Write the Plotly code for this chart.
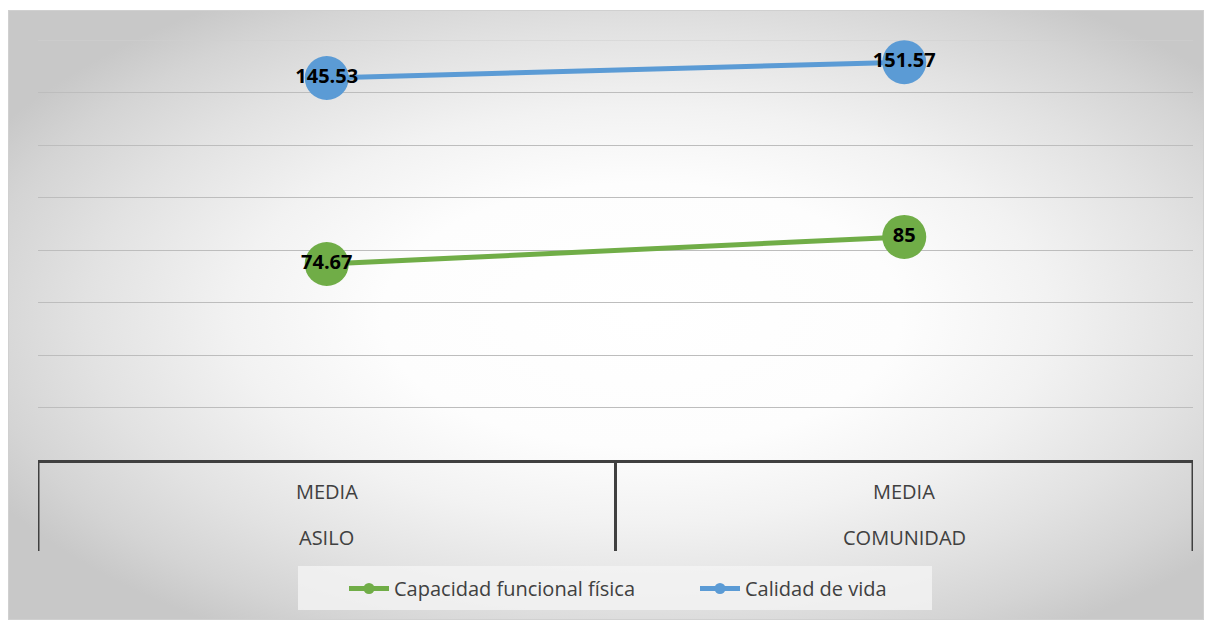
import base64
import plotly.graph_objects as go

# Category groups (bottom row) and statistic (top row)
groups = ["ASILO", "COMUNIDAD"]
stat_label = "MEDIA"

# Series values
capacidad = [74.67, 85]
calidad = [145.53, 151.57]

series_names = ["Capacidad funcional física", "Calidad de vida"]
colors = ["#70AD47", "#5B9BD5"]

# Y scale: 0..160 with gridlines every 20
y_max = 160
y_step = 20

W, H = 1209, 621
M_L, M_R, M_T, M_B = 38, 16, 40, 161
plot_w = W - M_L - M_R
plot_h = H - M_T - M_B

# Radial-gradient chart area background as an inline SVG
bg_w, bg_h = 1196, 610
svg = (
    f'<svg xmlns="http://www.w3.org/2000/svg" width="{bg_w}" height="{bg_h}" '
    f'viewBox="0 0 {bg_w} {bg_h}" preserveAspectRatio="none">'
    '<defs><radialGradient id="g" cx="0.53" cy="0.5" r="0.62">'
    '<stop offset="0" stop-color="#ffffff"/>'
    '<stop offset="0.35" stop-color="#fdfdfd"/>'
    '<stop offset="0.55" stop-color="#f2f2f2"/>'
    '<stop offset="0.75" stop-color="#e2e2e2"/>'
    '<stop offset="0.9" stop-color="#d4d4d4"/>'
    '<stop offset="1" stop-color="#c8c8c8"/>'
    '</radialGradient></defs>'
    f'<rect x="0.5" y="0.5" width="{bg_w-1}" height="{bg_h-1}" fill="url(#g)" '
    'stroke="#d0d0d0" stroke-width="1"/></svg>'
)
bg_src = "data:image/svg+xml;base64," + base64.b64encode(svg.encode()).decode()

def px_to_paper_x(px):
    return (px - M_L) / plot_w

def px_to_paper_y(py):
    return (H - M_B - py) / plot_h

fig = go.Figure()

for name, vals, col in zip(series_names, [capacidad, calidad], colors):
    fig.add_trace(go.Scatter(
        x=groups, y=vals, mode="lines+markers+text",
        line=dict(color=col, width=5),
        marker=dict(color=col, size=44, line=dict(width=0)),
        text=[f"{v:g}" for v in vals], textposition="middle center",
        textfont=dict(family="Open Sans", size=20, color="#000000", weight="bold"),
        showlegend=False, hoverinfo="skip", cliponaxis=False,
    ))

# Legend entries with small markers
for name, col in zip(series_names, colors):
    fig.add_trace(go.Scatter(
        x=[None], y=[None], mode="lines+markers", name=name,
        line=dict(color=col, width=5),
        marker=dict(color=col, size=11),
    ))

shapes = []
# Top gridline at the axis maximum
shapes.append(dict(type="line", xref="paper", yref="y", x0=0, x1=1,
                   y0=y_max, y1=y_max, line=dict(color="#d0d0d0", width=1.2),
                   layer="below"))
# Group dividers below the axis
div_bottom = px_to_paper_y(551)
for xv in [-0.5, 0.5, 1.5]:
    shapes.append(dict(type="line", xref="x", yref="paper",
                       x0=xv, x1=xv, y0=0, y1=div_bottom,
                       line=dict(color="#404040", width=3)))
# Legend panel
shapes.append(dict(type="rect", xref="paper", yref="paper",
                   x0=px_to_paper_x(298), x1=px_to_paper_x(932),
                   y0=px_to_paper_y(610), y1=px_to_paper_y(566),
                   fillcolor="rgba(244,244,244,0.8)", line=dict(width=0),
                   layer="below"))

annotations = []
for g in groups:
    annotations.append(dict(x=g, xref="x", y=px_to_paper_y(491), yref="paper",
                            yanchor="middle", text=stat_label, showarrow=False,
                            font=dict(family="Open Sans", size=20, color="#404040")))
    annotations.append(dict(x=g, xref="x", y=px_to_paper_y(537), yref="paper",
                            yanchor="middle", text=g, showarrow=False,
                            font=dict(family="Open Sans", size=20, color="#404040")))

fig.update_layout(
    width=W, height=H,
    margin=dict(l=M_L, r=M_R, t=M_T, b=M_B),
    paper_bgcolor="#ffffff",
    plot_bgcolor="rgba(0,0,0,0)",
    images=[dict(source=bg_src, xref="paper", yref="paper",
                 x=px_to_paper_x(8), y=px_to_paper_y(10),
                 sizex=px_to_paper_x(1204) - px_to_paper_x(8),
                 sizey=px_to_paper_y(10) - px_to_paper_y(620),
                 xanchor="left", yanchor="top", sizing="stretch",
                 layer="below")],
    xaxis=dict(type="category", range=[-0.5, 1.5], showticklabels=False,
               showgrid=False, zeroline=False, showline=True,
               linecolor="#404040", linewidth=3, ticks=""),
    yaxis=dict(range=[0, y_max], dtick=y_step, showticklabels=False,
               showgrid=True, gridcolor="#bdbdbd", gridwidth=1.2,
               zeroline=False, showline=False, ticks=""),
    legend=dict(orientation="h", xanchor="left", x=px_to_paper_x(344),
                y=px_to_paper_y(569), yanchor="top",
                bgcolor="rgba(0,0,0,0)",
                font=dict(family="Open Sans", size=20, color="#404040"),
                itemwidth=40, entrywidth=296),
    shapes=shapes,
    annotations=annotations,
)

fig.write_html("out.html")
